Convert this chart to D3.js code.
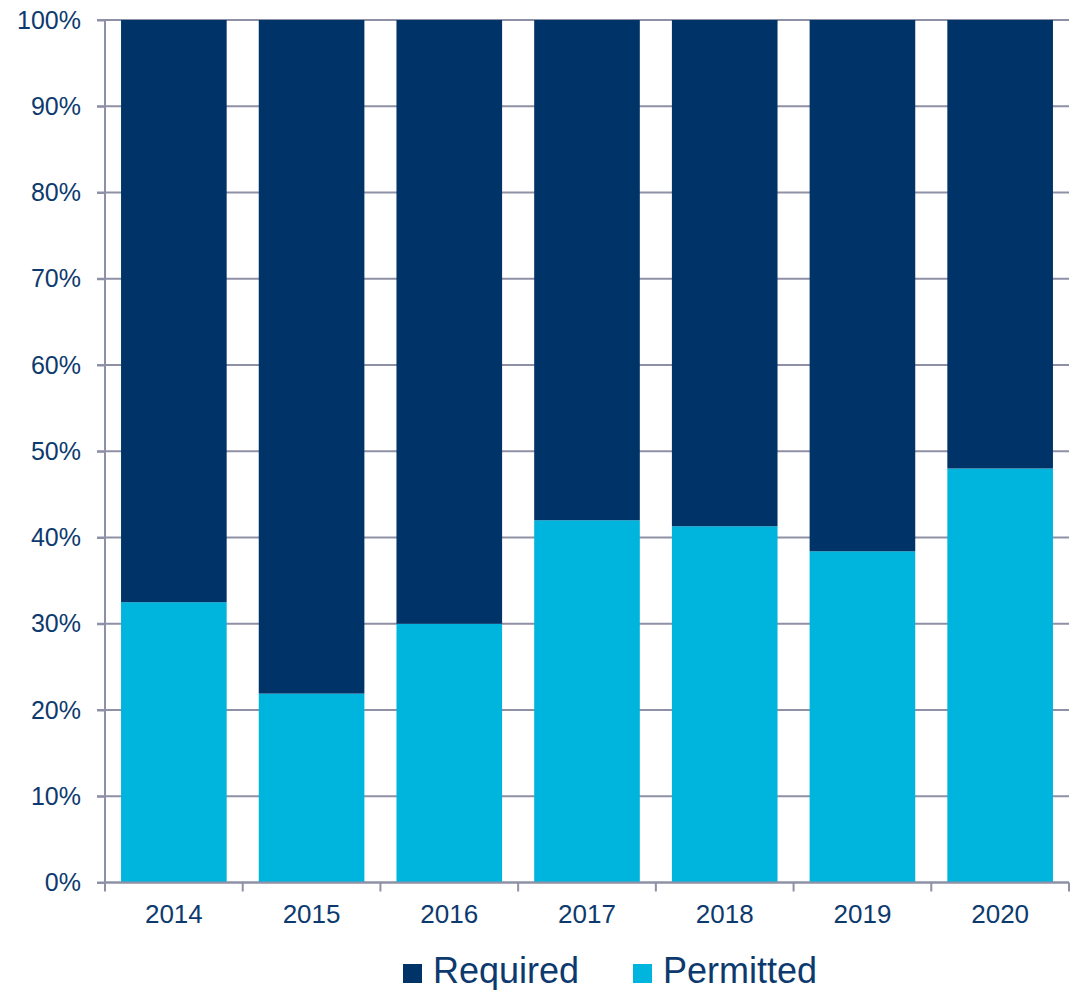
<!DOCTYPE html>
<html><head><meta charset="utf-8">
<script src="https://cdn.jsdelivr.net/npm/d3@7"></script>
<style>body{margin:0;background:#fff}svg{display:block}</style>
</head><body>
<svg id="c" width="1072" height="990"></svg>
<script>
const years = ["2014","2015","2016","2017","2018","2019","2020"];
const permitted = [32.5, 21.9, 30.0, 42.0, 41.3, 38.4, 48.0];
const required = permitted.map(p => 100 - p);
const yTicks = [0,10,20,30,40,50,60,70,80,90,100];
const seriesNames = ["Required","Permitted"];
const colors = {Required:"#003469", Permitted:"#00b5dd"};

const svg = d3.select("#c");
const L = 105, R = 1069, T = 20, B = 882.5;
const x = d3.scaleBand().domain(years).range([L,R]).paddingInner(0.233).paddingOuter(0.1165);
const y = d3.scaleLinear().domain([0,100]).range([B,T]);
const txt = "#0d3a6e", grid = "#8e91a6";

// gridlines
svg.append("g").selectAll("line").data(yTicks).join("line")
  .attr("x1",L-8).attr("x2",R).attr("y1",d=>y(d)).attr("y2",d=>y(d))
  .attr("stroke",grid).attr("stroke-width",2);

const data = years.map((yr,i)=>({yr, Permitted:permitted[i], Required:required[i]}));
const stack = d3.stack().keys(["Permitted","Required"])(data);
svg.append("g").selectAll("g").data(stack).join("g").attr("fill",d=>colors[d.key])
  .selectAll("rect").data(d=>d).join("rect")
  .attr("x",d=>x(d.data.yr)).attr("width",x.bandwidth())
  .attr("y",d=>y(d[1])).attr("height",d=>y(d[0])-y(d[1]));

// y axis
const ya = svg.append("g").attr("transform",`translate(${L},0)`)
  .call(d3.axisLeft(y).tickValues(yTicks).tickFormat(d=>d+"%").tickSize(8).tickPadding(16));
ya.select(".domain").attr("stroke",grid).attr("stroke-width",2).attr("d",`M0,${T}V${B}`);
ya.selectAll(".tick line").attr("stroke",grid).attr("stroke-width",2);
ya.selectAll("text").attr("font-family","Liberation Sans, Arial, sans-serif").attr("font-size",25).attr("fill",txt);

// x axis
const xa = svg.append("g").attr("transform",`translate(0,${B})`);
xa.append("line").attr("x1",L).attr("x2",R).attr("y1",0).attr("y2",0).attr("stroke",grid).attr("stroke-width",2);
const bounds = years.map(yr=>x(yr)-x.step()*x.paddingInner()/2 ).concat([R]);
bounds[0]=L;
xa.selectAll("line.t").data(bounds).join("line").attr("class","t")
  .attr("x1",d=>d).attr("x2",d=>d).attr("y1",0).attr("y2",9).attr("stroke",grid).attr("stroke-width",2);
xa.selectAll("text").data(years).join("text")
  .attr("x",d=>x(d)+x.bandwidth()/2).attr("y",40.5).attr("text-anchor","middle")
  .attr("font-family","Liberation Sans, Arial, sans-serif").attr("font-size",26).attr("fill",txt).text(d=>d);

// legend
const leg = svg.append("g");
const legX = [403, 633];
seriesNames.forEach((n,i)=>{
  leg.append("rect").attr("x",legX[i]).attr("y",964).attr("width",19).attr("height",19).attr("fill",colors[n]);
  leg.append("text").attr("x",legX[i]+30).attr("y",983).attr("font-family","Liberation Sans, Arial, sans-serif")
    .attr("font-size",36).attr("fill",txt).text(n);
});
</script>
</body></html>
